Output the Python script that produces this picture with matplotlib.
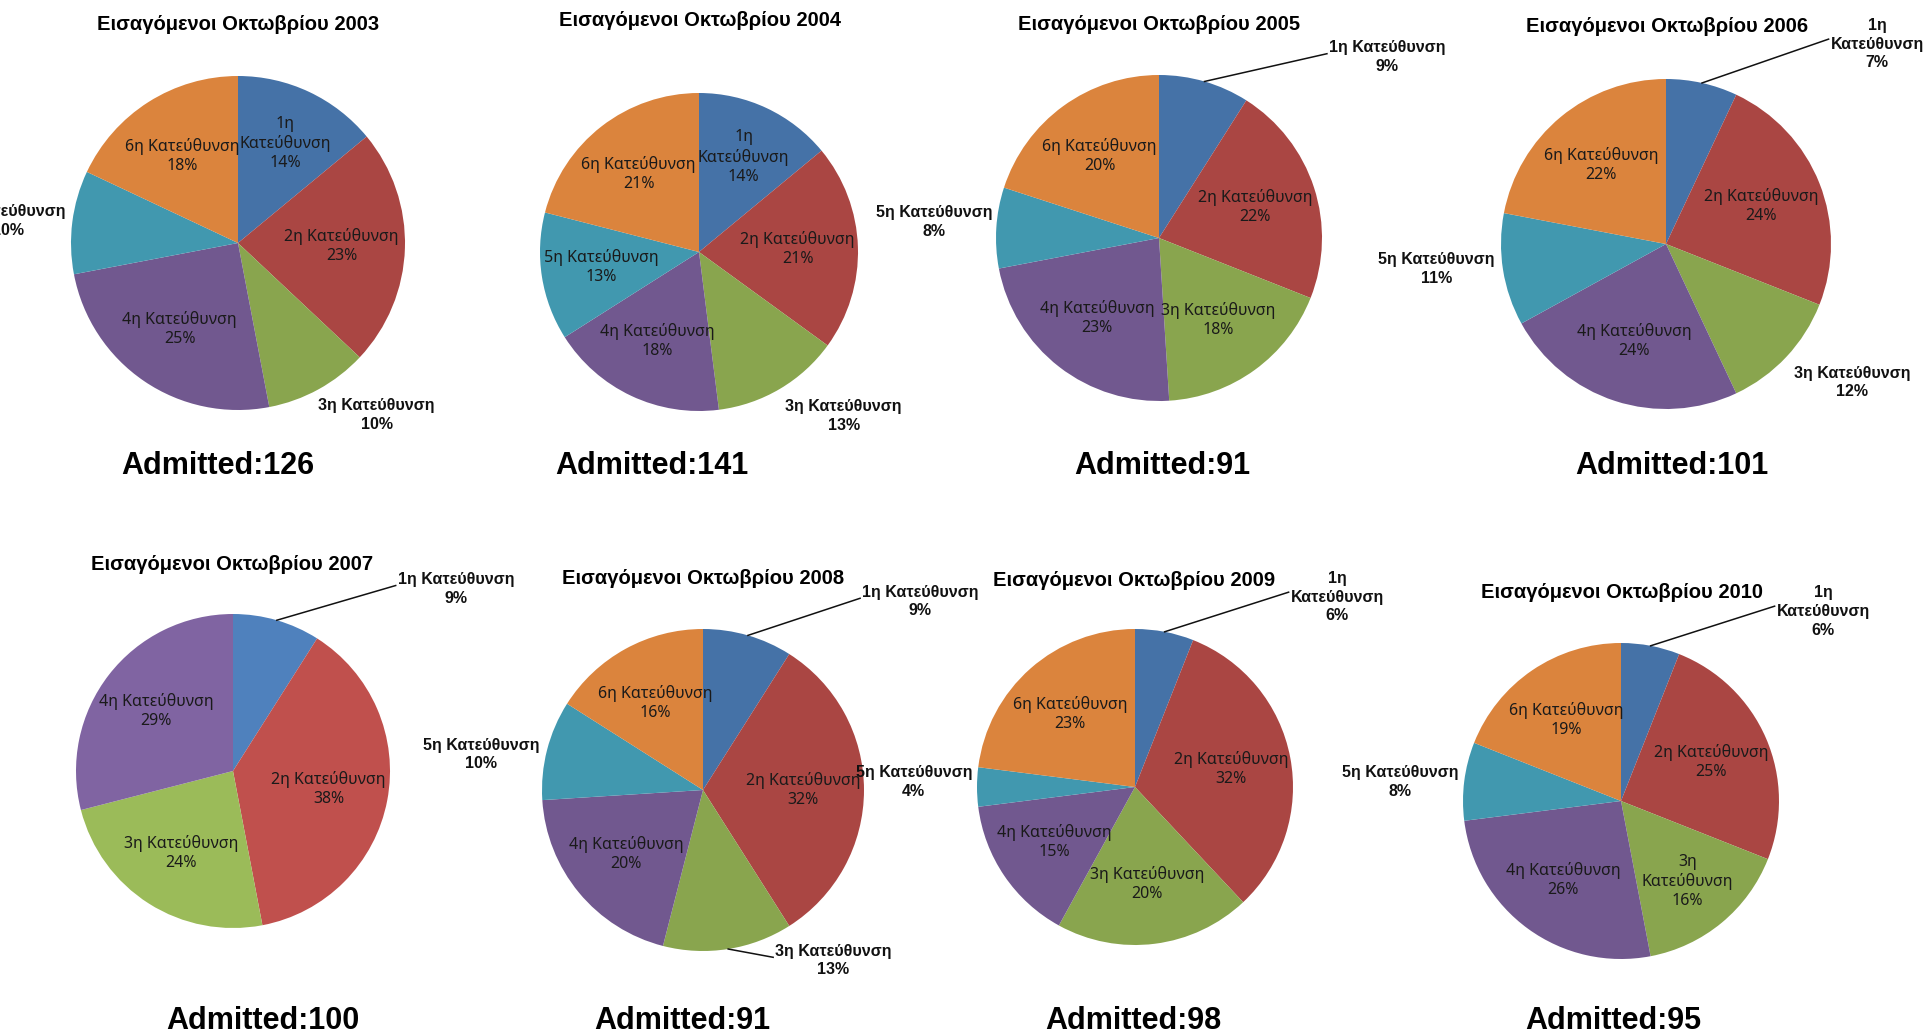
import numpy as np
import matplotlib
matplotlib.use('Agg')
import matplotlib.pyplot as plt

plt.rcParams['font.family'] = ['Noto Sans', 'DejaVu Sans']
BOLD_FONT = ['Liberation Sans', 'DejaVu Sans']

W, H = 1928, 1035

# data: share (%) of each "Κατεύθυνση" for the October intakes
years = [2003, 2004, 2005, 2006, 2007, 2008, 2009, 2010]
admitted = [126, 141, 91, 101, 100, 91, 98, 95]
categories = ['1η Κατεύθυνση', '2η Κατεύθυνση', '3η Κατεύθυνση',
              '4η Κατεύθυνση', '5η Κατεύθυνση', '6η Κατεύθυνση']
share_2003 = [14, 23, 10, 25, 10, 18]
share_2004 = [14, 21, 13, 18, 13, 21]
share_2005 = [9, 22, 18, 23, 8, 20]
share_2006 = [7, 24, 12, 24, 11, 22]
share_2007 = [9, 38, 24, 29]
share_2008 = [9, 32, 13, 20, 10, 16]
share_2009 = [6, 32, 20, 15, 4, 23]
share_2010 = [6, 25, 16, 26, 8, 19]
shares = [share_2003, share_2004, share_2005, share_2006,
          share_2007, share_2008, share_2009, share_2010]

dark_colors = ['#4572A7', '#AA4643', '#89A54E', '#71588F', '#4198AF', '#DB843D']
light_colors = ['#4F81BD', '#C0504D', '#9BBB59', '#8064A2', '#4BACC6', '#F79646']

# layout (pixels): pie centre, radius, title and "Admitted" text positions
centers = [(238, 243), (699, 252), (1159, 238), (1666, 244),
           (233, 771), (703, 790), (1135, 787), (1621, 801)]
radii = [167, 159, 163, 165, 157, 161, 158, 158]
title_pos = [(238, 25), (700, 21), (1159, 25), (1667, 26),
             (232, 565), (703, 578), (1134, 581), (1622, 593)]
adm_pos = [(218, 466), (652, 466), (1162, 466), (1672, 466),
           (263, 1021), (682, 1021), (1133, 1021), (1613, 1021)]

# outside labels: slice index -> centre in radius units; leader lines; 3-line labels
outside = [
    {2: (0.83, -1.03), 4: (-1.38, 0.13)},
    {2: (0.91, -1.03)},
    {0: (1.40, 1.11), 4: (-1.38, 0.10)},
    {0: (1.28, 1.21), 2: (1.13, -0.84), 4: (-1.39, -0.15)},
    {0: (1.42, 1.16)},
    {0: (1.35, 1.17), 2: (0.81, -1.06), 4: (-1.38, 0.22)},
    {0: (1.28, 1.20), 4: (-1.40, 0.03)},
    {0: (1.28, 1.20), 4: (-1.40, 0.12)},
]
leaders = [[], [], [0], [0], [0], [0, 2], [0], [0]]
split_names = [[0], [0], [], [0], [], [], [0], [0, 2]]

fig = plt.figure(figsize=(W / 100, H / 100), dpi=100)
fig.patch.set_facecolor('white')

pending = []
for i, year in enumerate(years):
    cx, cy = centers[i]
    r = radii[i]
    ax = fig.add_axes([(cx - r) / W, 1 - (cy + r) / H, 2 * r / W, 2 * r / H])
    vals = shares[i]
    cols = light_colors if year == 2007 else dark_colors
    wedges, _ = ax.pie(vals, colors=cols[:len(vals)], startangle=90,
                       counterclock=False, radius=1,
                       wedgeprops=dict(linewidth=0))
    ax.set_xlim(-1, 1)
    ax.set_ylim(-1, 1)
    ax.set_aspect('equal')
    ax.axis('off')

    for k, w in enumerate(wedges):
        name = categories[k]
        if k in split_names[i]:
            name = name.replace(' ', '\n')
        label = f'{name}\n{vals[k]}%'
        mid = np.deg2rad((w.theta1 + w.theta2) / 2)
        if k in outside[i]:
            lx, ly = outside[i][k]
            t = ax.text(lx, ly, label, ha='center', va='center',
                        multialignment='center', fontsize=11.5,
                        fontweight='bold', family=BOLD_FONT,
                        color='#111111', linespacing=1.3)
            if k in leaders[i]:
                pending.append((ax, t, (np.cos(mid), np.sin(mid))))
        else:
            d = 0.66 if k in split_names[i] else 0.62
            ax.text(d * np.cos(mid), d * np.sin(mid), label, ha='center',
                    va='center', multialignment='center', fontsize=11.5,
                    color='#1a1a1a', linespacing=1.25)

    tx, ty = title_pos[i]
    fig.text(tx / W, 1 - ty / H, f'Εισαγόμενοι Οκτωβρίου {year}',
             ha='center', va='center', fontsize=14.5, fontweight='bold',
             family=BOLD_FONT)
    axx, axy = adm_pos[i]
    fig.text(axx / W, 1 - axy / H, f'Admitted:{admitted[i]}', ha='center',
             va='center', fontsize=22, fontweight='bold', family=BOLD_FONT)

# leader lines from slice edge to the left side of the label
fig.canvas.draw()
renderer = fig.canvas.get_renderer()
for ax, t, (sx, sy) in pending:
    bb = t.get_window_extent(renderer)
    inv = ax.transData.inverted()
    ex, ey = inv.transform((bb.x0 - 2, bb.y0 + bb.height * 0.6))
    ax.plot([sx, ex], [sy, ey], color='#111111', linewidth=1.1, clip_on=False)

fig.savefig('out.png', dpi=100, facecolor='white')
